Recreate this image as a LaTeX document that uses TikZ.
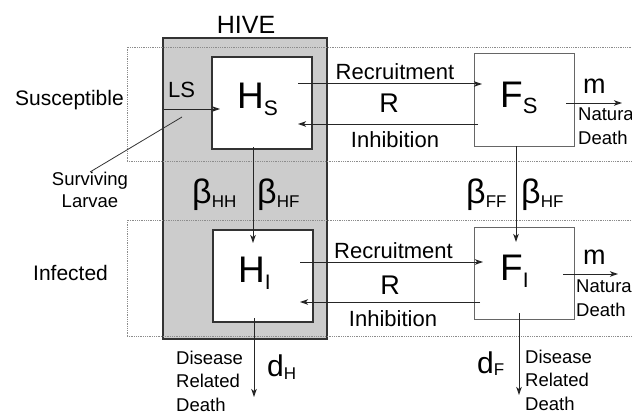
\documentclass[tikz,border=0pt]{standalone}
\usepackage{fontspec}
\setmainfont{Liberation Sans}
\usetikzlibrary{arrows.meta}

% big letter with a lowered subscript: {letter}{sub}{size}{subsize}{drop}
\newcommand{\bigsub}[5]{{\fontsize{#3}{#3}\selectfont #1}{\fontsize{#4}{#4}\selectfont\raisebox{-#5pt}{#2}}}

\tikzset{
  hivebox/.style={draw=black!80, line width=2.4pt, fill=black!20},
  band/.style={draw=black!45, densely dotted, line width=0.8pt},
  hbox/.style={draw=black!80, line width=2pt, fill=white, minimum width=100pt, minimum height=92pt, inner sep=0},
  fbox/.style={draw=black!60, line width=1pt, fill=white, minimum width=100pt, minimum height=92pt, inner sep=0},
  flow/.style={draw=black!85, line width=1pt, -{Stealth[length=8pt, width=5.5pt, inset=2pt]}},
  pointer/.style={draw=black!80, line width=0.8pt},
  rowlabel/.style={font=\fontsize{21}{25}\selectfont, anchor=base west, inner sep=0},
  flowlabel/.style={font=\fontsize{22}{26}\selectfont, anchor=base, inner sep=0},
  ratelabel/.style={font=\fontsize{27}{30}\selectfont, anchor=base, inner sep=0},
  symlabel/.style={anchor=base west, inner sep=0},
  note/.style={font=\fontsize{18.5}{23.5}\selectfont, align=left, anchor=north west, inner sep=0}
}

\begin{document}
\begin{tikzpicture}[x=1pt, y=-1pt]
  \useasboundingbox (0,0) rectangle (632,412);
  \clip (0,0) rectangle (632,412);

  % HIVE — grey block behind the two H compartments
  \draw[hivebox] (163,38) rectangle (327,339);
  \node[font=\fontsize{25}{29}\selectfont, anchor=base, inner sep=0] (hive) at (246,33.5) {HIVE};

  % rows — susceptible on top, infected below
  \foreach \top/\bot in {47/161, 220/336}
    \draw[band] (127,\bot) -- (127,\top) -- (640,\top) (127,\bot) -- (640,\bot);
  \node[rowlabel] (sus) at (15,106) {Susceptible};
  \node[rowlabel] (inf) at (33,280) {Infected};

  % compartments
  \node[hbox] (hs) at (262,103) {};
  \node[hbox] (hi) at (262.5,276) {};
  \node[fbox] (fs) at (524,100) {};
  \node[fbox] (fi) at (524,273.5) {};
  \node[symlabel] (hslabel) at (237,108) {\bigsub{H}{S}{37}{21}{7}};
  \node[symlabel] (hilabel) at (238,282) {\bigsub{H}{I}{37}{21}{7}};
  \node[symlabel] (fslabel) at (500,107) {\bigsub{F}{S}{37}{22}{6}};
  \node[symlabel] (filabel) at (500,280) {\bigsub{F}{I}{37}{21}{7}};

  % connector ends
  \coordinate (hsout) at (298,84);  \coordinate (fsin) at (482,84);
  \coordinate (fsout) at (478,124); \coordinate (hsin) at (298,124);
  \coordinate (hiout) at (300,262); \coordinate (fiin) at (483,262);
  \coordinate (fiout) at (480,302); \coordinate (hiin) at (300,302);
  \coordinate (lsfrom) at (164,109); \coordinate (lsto) at (220,109);
  \coordinate (hsdown) at (253,147); \coordinate (hitop) at (253,243);
  \coordinate (fsdown) at (516,146); \coordinate (fitop) at (516,242);
  \coordinate (msfrom) at (566,103); \coordinate (msto) at (622,103);
  \coordinate (mifrom) at (563,274); \coordinate (mito) at (618,274);
  \coordinate (dhfrom) at (254,318); \coordinate (dhto) at (254,397);
  \coordinate (dffrom) at (519,313); \coordinate (dfto) at (519,395);
  \coordinate (larvae) at (182,117);

  % flows
  \draw[flow] (hsout) -- (fsin);
  \draw[flow] (fsout) -- (hsin);
  \draw[flow] (hiout) -- (fiin);
  \draw[flow] (fiout) -- (hiin);
  \draw[flow] (lsfrom) -- (lsto);
  \draw[flow] (hsdown) -- (hitop);
  \draw[flow] (fsdown) -- (fitop);
  \draw[flow] (msfrom) -- (msto);
  \draw[flow] (mifrom) -- (mito);
  \draw[flow] (dhfrom) -- (dhto);
  \draw[flow] (dffrom) -- (dfto);

  % labels on the flows
  \node[flowlabel] (recs) at (395,80) {Recruitment};
  \node[ratelabel] (rs) at (389,113) {R};
  \node[flowlabel] (inhs) at (395,147) {Inhibition};
  \node[flowlabel] (reci) at (393.5,258) {Recruitment};
  \node[ratelabel] (ri) at (390,294) {R};
  \node[flowlabel] (inhi) at (393,326) {Inhibition};
  \node[flowlabel, anchor=base west] (ls) at (168,98) {LS};
  \node[note, align=center, anchor=north, font=\fontsize{18.5}{21.5}\selectfont] (surv) at (90,172) {Surviving\\Larvae};
  \draw[pointer] (surv.north) -- (larvae);

  \node[symlabel] (bhh) at (192,203) {\bigsub{β}{HH}{34}{17}{4.3}};
  \node[symlabel] (bhf) at (257,203) {\bigsub{β}{HF}{34}{17}{4.3}};
  \node[symlabel] (bff) at (466,203) {\bigsub{β}{FF}{34}{17}{4.3}};
  \node[symlabel] (bfh) at (521,203) {\bigsub{β}{HF}{34}{17}{4.3}};

  \node[symlabel, font=\fontsize{27}{30}\selectfont] (ms) at (583,93) {m};
  \node[symlabel, font=\fontsize{27}{30}\selectfont] (mi) at (583,264) {m};
  \node[note] (nds) at (578,107) {Natural\\Death};
  \node[note] (ndi) at (576,279) {Natural\\Death};

  \node[symlabel] (dh) at (267,376) {\bigsub{d}{H}{30}{17}{3}};
  \node[symlabel] (df) at (477,373) {\bigsub{d}{F}{30}{17}{2.5}};
  \node[note] (ddh) at (176,350.5) {Disease\\Related\\Death};
  \node[note] (ddf) at (525,349.5) {Disease\\Related\\Death};
\end{tikzpicture}
\end{document}
